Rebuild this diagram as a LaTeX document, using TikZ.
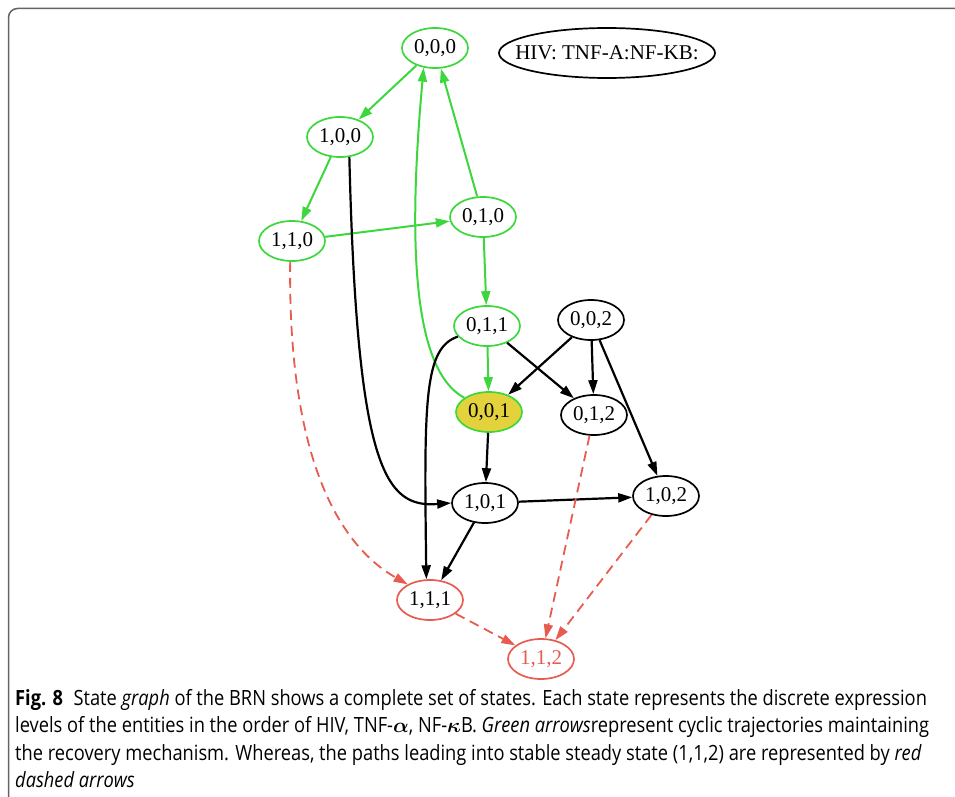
\documentclass[tikz,border=0pt]{standalone}
\usepackage{fontspec}
\setmainfont{Open Sans}[FakeStretch = 0.87]
\newfontfamily\statefont{Liberation Serif}
\usetikzlibrary{shapes.geometric, arrows.meta}
\definecolor{graphgreen}{RGB}{60,215,60}
\definecolor{graphred}{RGB}{232,92,80}
\definecolor{graphyellow}{RGB}{228,210,60}
\definecolor{framegray}{RGB}{100,100,100}
\begin{document}
\begin{tikzpicture}[x = 1pt, y = -1pt, >={Triangle[length = 14pt, width = 9pt]},
    state/.style = {ellipse, draw, line width = 1.7pt, minimum width = 66pt, minimum height = 40pt, inner sep = 0pt, font = \statefont\fontsize{21}{21}\selectfont},
    greenstate/.style = {state, draw = graphgreen},
    redstate/.style = {state, draw = graphred},
    greenedge/.style = {->, graphgreen, line width = 2pt},
    blackedge/.style = {->, black, line width = 2.2pt},
    rededge/.style = {->, graphred, line width = 1.8pt, dash pattern = on 10pt off 6pt}]
    \useasboundingbox (0, 0) rectangle (955, 797);
    \draw [framegray, line width = 1.5pt, rounded corners = 9pt] (8.5, 797) -- (8.5, 8.5) -- (955, 8.5);
    \node [greenstate] (n000) at (435, 48) {0,0,0};
    \node [greenstate] (n100) at (340, 137) {1,0,0};
    \node [greenstate] (n110) at (292, 241) {1,1,0};
    \node [greenstate] (n010) at (483, 217) {0,1,0};
    \node [greenstate] (n011) at (487, 326) {0,1,1};
    \node [greenstate, fill = graphyellow] (n001) at (489, 412) {0,0,1};
    \node [state] (n002) at (591, 320) {0,0,2};
    \node [state] (n012) at (594, 415) {0,1,2};
    \node [state] (n101) at (485, 503) {1,0,1};
    \node [state] (n102) at (666, 496) {1,0,2};
    \node [redstate] (n111) at (430, 600) {1,1,1};
    \node [redstate, text = graphred] (n112) at (541, 659) {1,1,2};
    \node [font = \statefont\fontsize{21}{21}\selectfont, inner sep = 0pt] (legend) at (607, 53) {HIV: TNF-A:NF-KB:};
    \draw [line width = 1.7pt] (legend.center) ellipse [x radius = 108, y radius = 25];
    \draw [greenedge] (n000) -- (n100);
    \draw [greenedge] (n100) -- (n110);
    \draw [greenedge] (n110) -- (n010);
    \draw [greenedge] (n010) -- (n000);
    \draw [greenedge] (n010) -- (n011);
    \draw [greenedge] (n011) -- (n001);
    \draw [greenedge] (n001.150) .. controls (412, 370) and (408, 240) .. (n000.240);
    \draw [blackedge] (n100.295) .. controls (357, 470) and (385, 508) .. (n101.west);
    \draw [blackedge] (n011.200) .. controls (424, 348) and (424, 400) .. (n111.100);
    \draw [blackedge] (n011) -- (n012);
    \draw [blackedge] (n002) -- (n001);
    \draw [blackedge] (n002) -- (n012);
    \draw [blackedge] (n002) -- (n102);
    \draw [blackedge] (n001) -- (n101);
    \draw [blackedge] (n101) -- (n102);
    \draw [blackedge] (n101) -- (n111);
    \draw [rededge] (n110.265) .. controls (288, 440) and (330, 540) .. (n111.145);
    \draw [rededge] (n111) -- (n112);
    \draw [rededge] (n012) -- (n112);
    \draw [rededge] (n102) -- (n112);
    \node [anchor = north west, inner sep = 0pt, align = left, font = \fontsize{21}{27.5}\selectfont] (caption) at (15, 689) {\textbf{Fig. 8}\enspace State \textit{graph} of the BRN shows a complete set of states. Each state represents the discrete expression\\
    levels of the entities in the order of HIV, TNF-{\boldmath$\alpha$}, NF-{\boldmath$\kappa$}B. \textit{Green arrows}represent cyclic trajectories maintaining\\
    the recovery mechanism. Whereas, the paths leading into stable steady state (1,1,2) are represented by \textit{red}\\
    \textit{dashed arrows}};
\end{tikzpicture}
\end{document}
